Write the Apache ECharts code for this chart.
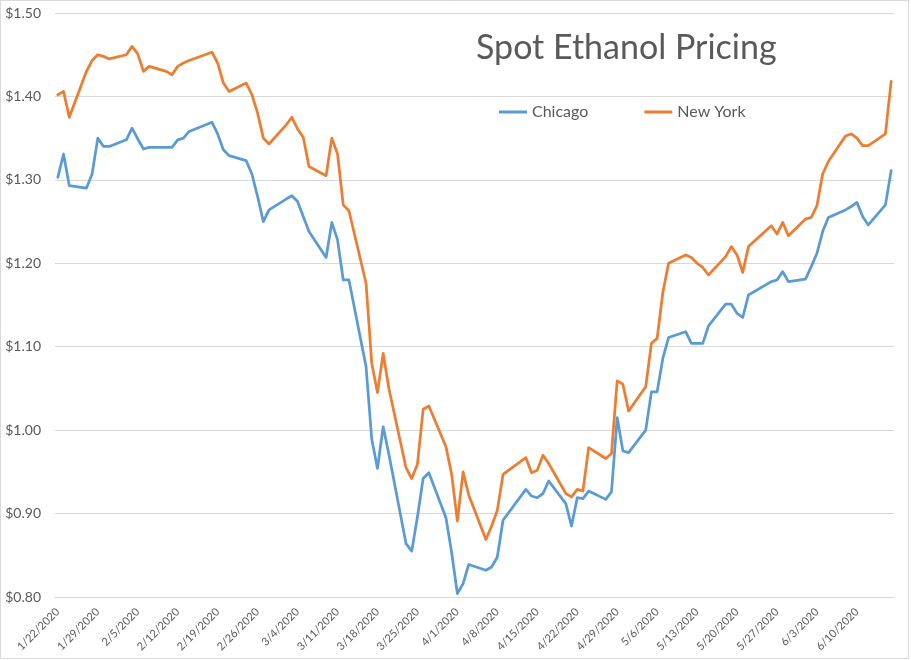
<!DOCTYPE html>
<html>
<head>
<meta charset="utf-8">
<script src="https://cdn.jsdelivr.net/npm/echarts@6/dist/echarts.min.js"></script>
<style>
  html, body { margin: 0; padding: 0; background: #fff; }
  #chart { width: 911px; height: 660px; }
</style>
</head>
<body>
<div id="chart"></div>
<script>
// trading days with a price (weekends and holidays have none)
const tradeDays = [
  "1/22", "1/23", "1/24", "1/27", "1/28", "1/29", "1/30", "1/31",
  "2/3", "2/4", "2/5", "2/6", "2/7", "2/10", "2/11", "2/12", "2/13", "2/14",
  "2/18", "2/19", "2/20", "2/21", "2/24", "2/25", "2/26", "2/27", "2/28",
  "3/2", "3/3", "3/4", "3/5", "3/6", "3/9", "3/10", "3/11", "3/12", "3/13",
  "3/16", "3/17", "3/18", "3/19", "3/20", "3/23", "3/24", "3/25", "3/26", "3/27",
  "3/30", "3/31",
  "4/1", "4/2", "4/3", "4/6", "4/7", "4/8", "4/9", "4/13", "4/14", "4/15",
  "4/16", "4/17", "4/20", "4/21", "4/22", "4/23", "4/24", "4/27", "4/28", "4/29", "4/30",
  "5/1", "5/4", "5/5", "5/6", "5/7", "5/8", "5/11", "5/12", "5/13", "5/14", "5/15",
  "5/18", "5/19", "5/20", "5/21", "5/22", "5/26", "5/27", "5/28", "5/29",
  "6/1", "6/2", "6/3", "6/4", "6/5", "6/8", "6/9", "6/10", "6/11", "6/12", "6/15", "6/16"
];

const chicago = [
  1.303, 1.331, 1.293, 1.290, 1.307, 1.350, 1.340, 1.340,
  1.348, 1.362, 1.349, 1.337, 1.339, 1.339, 1.339, 1.348, 1.350, 1.358,
  1.369, 1.355, 1.336, 1.329, 1.323, 1.307, 1.280, 1.250, 1.264,
  1.277, 1.281, 1.274, 1.256, 1.238, 1.207, 1.249, 1.228, 1.180, 1.180,
  1.076, 0.989, 0.954, 1.004, 0.971, 0.864, 0.855, 0.896, 0.942, 0.949,
  0.895, 0.853,
  0.804, 0.816, 0.839, 0.832, 0.836, 0.848, 0.892, 0.929, 0.921, 0.919,
  0.924, 0.939, 0.912, 0.885, 0.919, 0.918, 0.927, 0.917, 0.926, 1.015, 0.975,
  0.973, 1.000, 1.046, 1.046, 1.086, 1.111, 1.118, 1.104, 1.104, 1.104, 1.125,
  1.151, 1.151, 1.140, 1.135, 1.162, 1.178, 1.180, 1.190, 1.178,
  1.181, 1.196, 1.212, 1.238, 1.255, 1.264, 1.268, 1.273, 1.256, 1.246, 1.270, 1.311
];

const newYork = [
  1.402, 1.406, 1.375, 1.430, 1.443, 1.450, 1.448, 1.445,
  1.450, 1.460, 1.451, 1.430, 1.436, 1.430, 1.426, 1.436, 1.440, 1.443,
  1.453, 1.440, 1.416, 1.406, 1.416, 1.402, 1.380, 1.350, 1.343,
  1.366, 1.375, 1.361, 1.351, 1.316, 1.305, 1.350, 1.331, 1.270, 1.263,
  1.176, 1.080, 1.045, 1.092, 1.050, 0.955, 0.942, 0.959, 1.025, 1.029,
  0.980, 0.947,
  0.891, 0.950, 0.922, 0.869, 0.885, 0.904, 0.947, 0.967, 0.949, 0.952,
  0.970, 0.960, 0.924, 0.920, 0.929, 0.927, 0.979, 0.966, 0.972, 1.059, 1.055,
  1.023, 1.052, 1.104, 1.110, 1.165, 1.200, 1.210, 1.207, 1.200, 1.195, 1.186,
  1.208, 1.220, 1.210, 1.189, 1.220, 1.245, 1.235, 1.249, 1.233,
  1.253, 1.255, 1.269, 1.307, 1.322, 1.3525, 1.355, 1.350, 1.341, 1.341, 1.355, 1.418
];

const firstDay = "2020-01-22";
const lastDay = "2020-06-16";

// calendar axis like Excel's date axis: one slot per day
const categories = [];
for (let t = Date.parse(firstDay); t <= Date.parse(lastDay); t += 86400000) {
  const d = new Date(t);
  categories.push((d.getUTCMonth() + 1) + "/" + d.getUTCDate() + "/" + d.getUTCFullYear());
}

function onCalendar(values) {
  const byDay = {};
  tradeDays.forEach((day, i) => { byDay[day + "/2020"] = values[i]; });
  return categories.map(c => (c in byDay ? byDay[c] : null));
}

const textColor = "#595959";
const font = "Lato, 'Open Sans', sans-serif";

const chart = echarts.init(document.getElementById("chart"));
chart.setOption({
  animation: false,
  textStyle: { fontFamily: font },
  title: {
    text: "Spot Ethanol Pricing",
    left: 471,
    top: 26,
    textStyle: { fontSize: 34, fontWeight: "normal", color: textColor, fontFamily: font },
  },
  legend: {
    data: ["Chicago", "New York"],
    left: 494,
    top: 99,
    icon: "rect",
    itemWidth: 28,
    itemHeight: 3,
    itemGap: 56,
    textStyle: { fontSize: 16, color: textColor, fontFamily: font },
  },
  graphic: [
    {
      type: "rect",
      shape: { x: 0.5, y: 0.5, width: 908, height: 658 },
      style: { fill: null, stroke: "#d9d9d9", lineWidth: 1 },
      silent: true,
    },
  ],
  grid: {
    top: 13,
    left: 55,
    right: 17,
    bottom: 63,
  },
  xAxis: {
    type: "category",
    data: categories,
    boundaryGap: true,
    axisLine: { lineStyle: { color: "#d9d9d9", width: 1 } },
    axisTick: { show: false },
    axisLabel: {
      interval: 6,
      rotate: 45,
      fontSize: 11,
      color: textColor,
      margin: 13,
    },
  },
  yAxis: {
    type: "value",
    min: 0.8,
    max: 1.5,
    interval: 0.1,
    axisLine: { show: false },
    axisTick: { show: false },
    splitLine: { lineStyle: { color: "#d9d9d9", width: 1 } },
    axisLabel: {
      fontSize: 14,
      color: textColor,
      margin: 14,
      formatter: v => "$" + v.toFixed(2),
    },
  },
  series: [
    {
      name: "Chicago",
      type: "line",
      data: onCalendar(chicago),
      connectNulls: true,
      showSymbol: false,
      color: "#5B9BD5",
      lineStyle: { width: 2.75, cap: "round", join: "round" },
    },
    {
      name: "New York",
      type: "line",
      data: onCalendar(newYork),
      connectNulls: true,
      showSymbol: false,
      color: "#ED7D31",
      lineStyle: { width: 2.75, cap: "round", join: "round" },
    },
  ],
});
</script>
</body>
</html>
